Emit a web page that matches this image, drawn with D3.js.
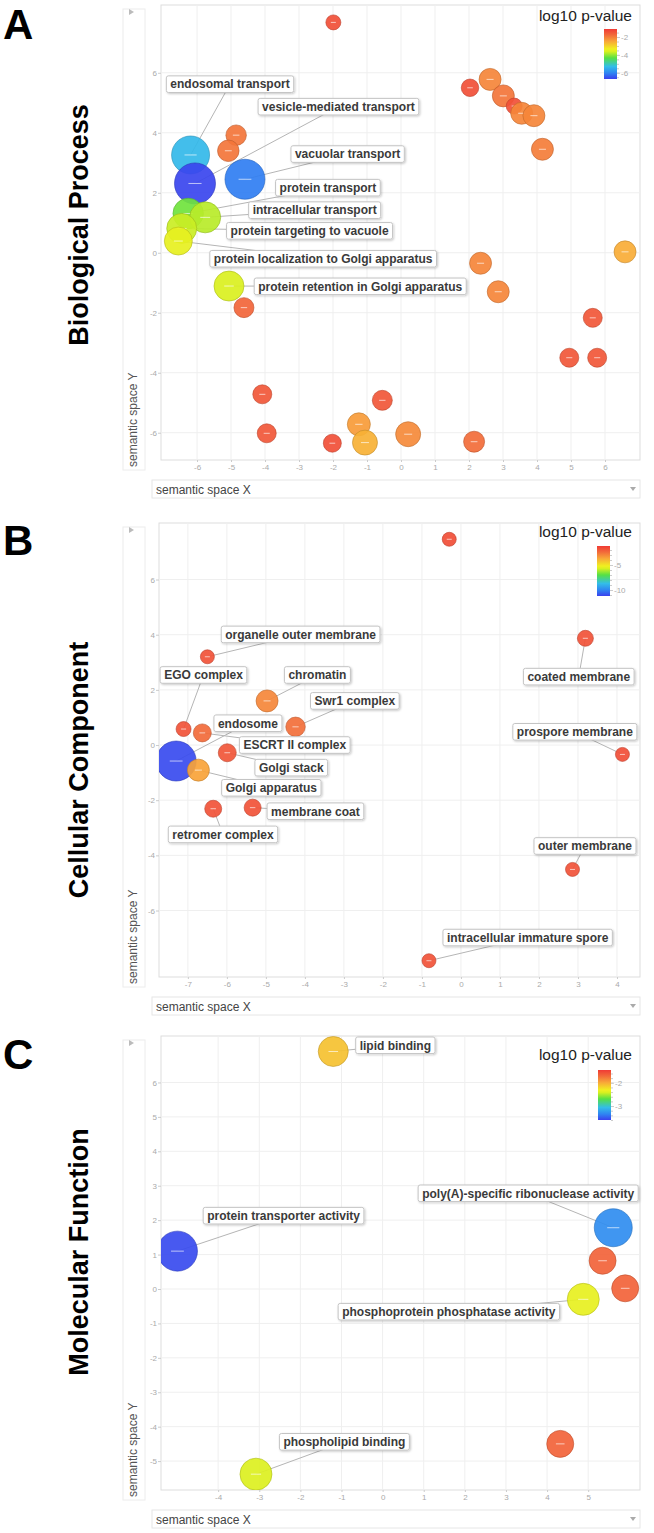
<!DOCTYPE html>
<html>
<head>
<meta charset="utf-8">
<script src="https://cdn.jsdelivr.net/npm/d3@7"></script>
<style>
  body { margin: 0; background: #fff; font-family: "Liberation Sans", Arial, sans-serif; }
</style>
</head>
<body>
<svg id="chart" width="654" height="1533"></svg>
<script>
// term, semantic x, semantic y, log10 p-value, log size
const bpPoints = [
  ["", -1.99, 7.68, -1.4, 1.5],
  ["", 2.03, 5.5, -1.4, 1.75],
  ["", 2.62, 5.78, -2.1, 2.2],
  ["", 3.01, 5.23, -1.9, 2.2],
  ["", 3.33, 4.89, -1.4, 1.6],
  ["", 3.55, 4.65, -2.1, 2.2],
  ["", 3.91, 4.57, -2.1, 2.2],
  ["", 4.16, 3.45, -2.0, 2.2],
  ["", 6.59, 0.03, -2.55, 2.2],
  ["", -4.85, 3.92, -1.9, 2.05],
  ["", -5.08, 3.4, -1.9, 2.15],
  ["endosomal transport", -6.19, 3.26, -5.35, 3.8],
  ["vesicle-mediated transport", -6.06, 2.31, -6.65, 4.1],
  ["vacuolar transport", -4.59, 2.45, -6.1, 4.0],
  ["protein transport", -6.26, 1.31, -4.2, 3.05],
  ["intracellular transport", -5.76, 1.18, -3.8, 3.1],
  ["protein targeting to vacuole", -6.45, 0.81, -3.7, 3.0],
  ["protein localization to Golgi apparatus", -6.55, 0.39, -3.45, 2.8],
  ["protein retention in Golgi apparatus", -5.06, -1.11, -3.6, 3.0],
  ["", -4.62, -1.83, -1.7, 2.0],
  ["", 2.34, -0.35, -2.1, 2.2],
  ["", 2.86, -1.3, -2.1, 2.2],
  ["", 5.64, -2.17, -1.5, 1.9],
  ["", 4.95, -3.5, -1.5, 1.9],
  ["", 5.77, -3.5, -1.5, 1.9],
  ["", -4.08, -4.72, -1.5, 1.9],
  ["", -0.55, -4.92, -1.5, 2.0],
  ["", -3.95, -6.02, -1.5, 1.9],
  ["", -1.24, -5.72, -2.35, 2.3],
  ["", -2.02, -6.35, -1.4, 1.8],
  ["", -1.06, -6.33, -2.6, 2.5],
  ["", 0.21, -6.05, -2.15, 2.5],
  ["", 2.15, -6.3, -1.8, 2.1]
];
const bpLabels = [
  ["endosomal transport", -5.03, 5.62],
  ["vesicle-mediated transport", -1.84, 4.87],
  ["vacuolar transport", -1.57, 3.29],
  ["protein transport", -2.15, 2.17],
  ["intracellular transport", -2.54, 1.42],
  ["protein targeting to vacuole", -2.69, 0.73],
  ["protein localization to Golgi apparatus", -2.29, -0.2],
  ["protein retention in Golgi apparatus", -1.2, -1.12]
];

const ccPoints = [
  ["", -0.3, 7.46, -1.7, 1.4],
  ["organelle outer membrane", -6.5, 3.2, -1.8, 1.4],
  ["coated membrane", 3.19, 3.87, -1.8, 1.6],
  ["chromatin", -4.97, 1.6, -3.0, 2.2],
  ["Swr1 complex", -4.24, 0.66, -2.5, 1.95],
  ["EGO complex", -7.11, 0.58, -1.8, 1.5],
  ["ESCRT II complex", -6.63, 0.44, -2.4, 1.8],
  ["Golgi stack", -5.99, -0.28, -1.9, 1.8],
  ["prospore membrane", 4.14, -0.34, -1.7, 1.4],
  ["endosome", -7.3, -0.58, -11.0, 4.0],
  ["Golgi apparatus", -6.73, -0.91, -3.6, 2.2],
  ["retromer complex", -6.35, -2.31, -1.8, 1.7],
  ["membrane coat", -5.34, -2.27, -1.8, 1.7],
  ["outer membrane", 2.86, -4.51, -1.8, 1.4],
  ["intracellular immature spore", -0.82, -7.82, -1.8, 1.4]
];
const ccLabels = [
  ["organelle outer membrane", -4.11, 4.01],
  ["EGO complex", -6.6, 2.54],
  ["chromatin", -3.68, 2.54],
  ["Swr1 complex", -2.72, 1.6],
  ["coated membrane", 3.02, 2.48],
  ["endosome", -5.46, 0.79],
  ["ESCRT II complex", -4.26, 0.0],
  ["Golgi stack", -4.35, -0.82],
  ["Golgi apparatus", -4.86, -1.55],
  ["membrane coat", -3.73, -2.4],
  ["retromer complex", -6.1, -3.24],
  ["prospore membrane", 2.92, 0.48],
  ["outer membrane", 3.18, -3.66],
  ["intracellular immature spore", 1.71, -6.98]
];

const mfPoints = [
  ["lipid binding", -1.2, 6.9, -2.1, 3.0],
  ["protein transporter activity", -4.99, 1.1, -3.56, 4.0],
  ["poly(A)-specific ribonuclease activity", 5.61, 1.78, -3.3, 3.8],
  ["", 5.35, 0.82, -1.67, 2.7],
  ["", 5.9, 0.02, -1.67, 2.7],
  ["phosphoprotein phosphatase activity", 4.88, -0.3, -2.35, 3.2],
  ["", 4.32, -4.5, -1.67, 2.7],
  ["phospholipid binding", -3.08, -5.38, -2.4, 3.2]
];
const mfLabels = [
  ["lipid binding", 0.31, 7.08],
  ["protein transporter activity", -2.41, 2.13],
  ["poly(A)-specific ribonuclease activity", 3.54, 2.78],
  ["phosphoprotein phosphatase activity", 1.61, -0.66],
  ["phospholipid binding", -0.93, -4.44]
];

const bpXTicks = [-6, -5, -4, -3, -2, -1, 0, 1, 2, 3, 4, 5, 6];
const bpYTicks = [-6, -4, -2, 0, 2, 4, 6];
const ccXTicks = [-7, -6, -5, -4, -3, -2, -1, 0, 1, 2, 3, 4];
const ccYTicks = [-6, -4, -2, 0, 2, 4, 6];
const mfXTicks = [-4, -3, -2, -1, 0, 1, 2, 3, 4, 5];
const mfYTicks = [-5, -4, -3, -2, -1, 0, 1, 2, 3, 4, 5, 6];

const bpPRange = [-6.7, -1.1], bpPTicks = [-2, -4, -6];
const ccPRange = [-11.2, -1.2], ccPTicks = [-5, -10];
const mfPRange = [-3.6, -1.45], mfPTicks = [-2, -3];

// layout
const panels = [
  { letter: "A", title: "Biological Process", points: bpPoints, labels: bpLabels,
    xTicks: bpXTicks, yTicks: bpYTicks, pRange: bpPRange, pTicks: bpPTicks,
    box: { left: 161, right: 640, top: 5, bottom: 460 },
    xDomain: [-7.06, 7.03], yDomain: [-6.91, 8.26],
    titleY: 225, letterDy: 34, legend: { text: 15.7, barX: 604, barY: 24 } },
  { letter: "B", title: "Cellular Component", points: ccPoints, labels: ccLabels,
    xTicks: ccXTicks, yTicks: ccYTicks, pRange: ccPRange, pTicks: ccPTicks,
    box: { left: 159, right: 640, top: 523, bottom: 977 },
    xDomain: [-7.74, 4.59], yDomain: [-8.41, 8.05],
    titleY: 770, letterDy: 32, legend: { text: 13.7, barX: 597, barY: 23 } },
  { letter: "C", title: "Molecular Function", points: mfPoints, labels: mfLabels,
    xTicks: mfXTicks, yTicks: mfYTicks, pRange: mfPRange, pTicks: mfPTicks,
    box: { left: 161, right: 640, top: 1036, bottom: 1490 },
    xDomain: [-5.39, 6.26], yDomain: [-5.84, 7.35],
    titleY: 1252, letterDy: 33, legend: { text: 24, barX: 598, barY: 34 } }
];

const rainbow = d3.scaleLinear()
  .domain([0, 0.12, 0.25, 0.42, 0.55, 0.6, 0.75, 0.88, 1])
  .range(["#3a40ee", "#2f85f2", "#33bde8", "#55e045", "#d8f020", "#f0f020", "#f8a838", "#f26a3a", "#f03a35"]);
const rScale = d3.scaleLinear().domain([0, 4]).range([0, 20]);

const svg = d3.select("#chart");
const defs = svg.append("defs");

defs.append("filter").attr("id", "shadow")
  .attr("x", "-10%").attr("y", "-30%").attr("width", "130%").attr("height", "180%")
  .append("feDropShadow")
  .attr("dx", 1).attr("dy", 1).attr("stdDeviation", 1)
  .attr("flood-color", "#000").attr("flood-opacity", 0.22);

const grad = defs.append("linearGradient").attr("id", "rainbow")
  .attr("x1", 0).attr("y1", 1).attr("x2", 0).attr("y2", 0);
rainbow.domain().forEach(t => grad.append("stop").attr("offset", t).attr("stop-color", rainbow(t)));

panels.forEach((p, i) => drawPanel(p, i));

function drawPanel(p, i) {
  const { left, right, top, bottom } = p.box;
  const x = d3.scaleLinear().domain(p.xDomain).range([left, right]);
  const y = d3.scaleLinear().domain(p.yDomain).range([bottom, top]);
  const color = v => rainbow((v - p.pRange[0]) / (p.pRange[1] - p.pRange[0]));
  const g = svg.append("g");

  // panel letter + title
  g.append("text")
    .attr("x", 3).attr("y", top + p.letterDy)
    .style("font-size", "42px").style("font-weight", "bold").attr("fill", "#000")
    .text(p.letter);
  g.append("text")
    .attr("transform", `translate(88,${p.titleY}) rotate(-90)`)
    .attr("text-anchor", "middle")
    .style("font-size", "27px").style("font-weight", "bold").attr("fill", "#000")
    .text(p.title);

  // y label box
  g.append("rect")
    .attr("x", 123).attr("y", top + 4)
    .attr("width", 22).attr("height", bottom - top + 6)
    .attr("fill", "none").attr("stroke", "#ececec");
  g.append("text")
    .attr("transform", `translate(137,${bottom + 7}) rotate(-90)`)
    .style("font-size", "12px").attr("fill", "#555")
    .text("semantic space Y");
  g.append("path")
    .attr("d", `M129,${top + 4}L134,${top + 7}L129,${top + 10}Z`)
    .attr("fill", "#bbb");

  // x label box
  g.append("rect")
    .attr("x", 152).attr("y", bottom + 20)
    .attr("width", 488).attr("height", 18)
    .attr("fill", "none").attr("stroke", "#e6e6e6");
  g.append("text")
    .attr("x", 156).attr("y", bottom + 34)
    .style("font-size", "12px").attr("fill", "#444")
    .text("semantic space X");
  g.append("path")
    .attr("d", `M630,${bottom + 27}L636,${bottom + 27}L633,${bottom + 31}Z`)
    .attr("fill", "#aaa");

  // plot area
  g.append("rect")
    .attr("x", left).attr("y", top)
    .attr("width", right - left).attr("height", bottom - top)
    .attr("fill", "#fff").attr("stroke", "#ddd");

  // grid
  g.append("g").selectAll("line")
    .data(p.xTicks).enter().append("line")
    .attr("x1", d => x(d)).attr("x2", d => x(d))
    .attr("y1", top).attr("y2", bottom)
    .attr("stroke", "#efefef");
  g.append("g").selectAll("line")
    .data(p.yTicks).enter().append("line")
    .attr("x1", left).attr("x2", right)
    .attr("y1", d => y(d)).attr("y2", d => y(d))
    .attr("stroke", "#efefef");

  // axes
  const yAxis = d3.axisLeft(y).tickValues(p.yTicks).tickSize(3).tickPadding(1).tickFormat(d => d);
  const xAxis = d3.axisBottom(x).tickValues(p.xTicks).tickSize(2).tickPadding(2).tickFormat(d => d);
  [g.append("g").attr("transform", `translate(${left},0)`).call(yAxis),
   g.append("g").attr("transform", `translate(0,${bottom})`).call(xAxis)].forEach(a => {
    a.select(".domain").remove();
    a.selectAll("line").attr("stroke", "#ccc");
    a.selectAll("text").attr("fill", "#aaa").style("font-size", "8px")
      .style("font-family", "'Liberation Sans', Arial, sans-serif");
  });

  // clip
  const clipId = "clip" + i;
  defs.append("clipPath").attr("id", clipId)
    .append("rect").attr("x", left).attr("y", top)
    .attr("width", right - left).attr("height", bottom - top);

  const byName = new Map(p.points.filter(d => d[0]).map(d => [d[0], d]));

  // connector lines
  g.append("g").selectAll("line")
    .data(p.labels).enter().append("line")
    .attr("x1", d => x(byName.get(d[0])[1]))
    .attr("y1", d => y(byName.get(d[0])[2]))
    .attr("x2", d => x(d[1]))
    .attr("y2", d => y(d[2]))
    .attr("stroke", "#b5b5b5").attr("stroke-width", 1);

  // bubbles
  const bub = g.append("g").attr("clip-path", `url(#${clipId})`)
    .selectAll("g").data(p.points).enter().append("g")
    .attr("transform", d => `translate(${x(d[1])},${y(d[2])})`);
  bub.append("circle")
    .attr("r", d => rScale(d[4]))
    .attr("fill", d => color(d[3]))
    .attr("fill-opacity", 0.92)
    .attr("stroke", d => d3.color(color(d[3])).darker(0.7))
    .attr("stroke-opacity", 0.6)
    .attr("stroke-width", 1);
  bub.append("line")
    .attr("x1", d => -Math.max(2.5, rScale(d[4]) * 0.32))
    .attr("x2", d => Math.max(2.5, rScale(d[4]) * 0.32))
    .attr("stroke", "rgba(255,255,255,0.65)").attr("stroke-width", 1);

  // labels
  const lab = g.append("g").selectAll("g")
    .data(p.labels).enter().append("g")
    .attr("transform", d => `translate(${x(d[1])},${y(d[2])})`);
  const rects = lab.append("rect")
    .attr("fill", "#fff").attr("stroke", "#c4c4c4").attr("rx", 2)
    .attr("filter", "url(#shadow)");
  const texts = lab.append("text")
    .attr("text-anchor", "middle").attr("y", 4.3)
    .style("font-size", "12px").style("font-weight", "bold").attr("fill", "#3a3a3a")
    .text(d => d[0]);
  texts.each(function (d, k) {
    const w = this.getComputedTextLength() + 8;
    d3.select(rects.nodes()[k])
      .attr("x", -w / 2).attr("y", -8.3).attr("width", w).attr("height", 16.6);
  });

  // colour legend
  const L = p.legend;
  g.append("text")
    .attr("x", 632).attr("y", top + L.text)
    .attr("text-anchor", "end")
    .style("font-size", "15.5px").attr("fill", "#222")
    .text("log10 p-value");
  g.append("rect")
    .attr("x", L.barX).attr("y", top + L.barY)
    .attr("width", 13).attr("height", 50)
    .attr("fill", "url(#rainbow)");
  const ls = d3.scaleLinear().domain(p.pRange).range([top + L.barY + 50, top + L.barY]);
  const minor = g.append("g").attr("transform", `translate(${L.barX + 13},0)`)
    .call(d3.axisRight(ls).ticks(12).tickSize(2).tickFormat(""));
  minor.select(".domain").remove();
  minor.selectAll("line").attr("stroke", "#ccc");
  const major = g.append("g").attr("transform", `translate(${L.barX + 13},0)`)
    .call(d3.axisRight(ls).tickValues(p.pTicks).tickSize(3).tickPadding(1).tickFormat(d => d));
  major.select(".domain").remove();
  major.selectAll("line").attr("stroke", "#ccc");
  major.selectAll("text").attr("fill", "#aaa").style("font-size", "8px")
    .style("font-family", "'Liberation Sans', Arial, sans-serif");
}
</script>
</body>
</html>
